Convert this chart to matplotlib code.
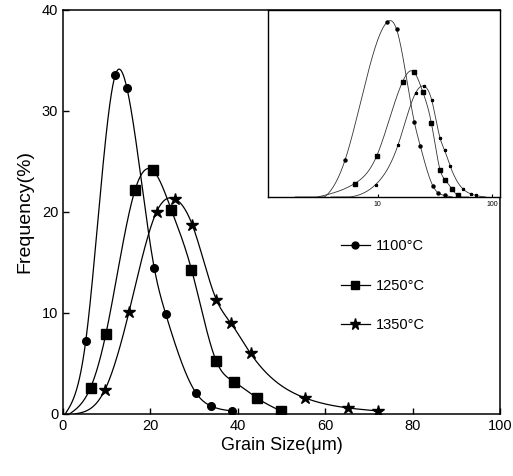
import numpy as np
import matplotlib
matplotlib.use("Agg")
import matplotlib.pyplot as plt

plt.rcParams['font.family'] = ['Liberation Sans', 'DejaVu Sans']

# ---- data ----
x_1100 = [5.2, 12.0, 14.6, 20.9, 23.5, 30.4, 33.8, 38.6]
y_1100 = [7.2, 33.6, 32.3, 14.4, 9.9, 2.1, 0.8, 0.3]
start_1100 = 0.5

x_1250 = [6.3, 9.8, 16.5, 20.6, 24.8, 29.4, 35.1, 39.1, 44.3, 49.8]
y_1250 = [2.6, 7.9, 22.2, 24.1, 20.2, 14.3, 5.2, 3.2, 1.6, 0.3]
start_1250 = 1.5

x_1350 = [9.6, 15.1, 21.4, 25.6, 29.6, 35.1, 38.4, 42.9, 55.3, 65.2, 72.1]
y_1350 = [2.4, 10.1, 20.0, 21.3, 18.7, 11.3, 9.0, 6.0, 1.6, 0.6, 0.3]
start_1350 = 2.7

# where the inset (log axis) curves leave / reach the baseline
inset_start = [1.9, 3.0, 3.9]
inset_end = [45.0, 62.0, 88.0]

labels = ['1100°C', '1250°C', '1350°C']
x_ticks = [0, 20, 40, 60, 80, 100]
y_ticks = [0, 10, 20, 30, 40]
inset_ticks = [10, 100]


def spline(x, y, xs):
    """natural cubic spline through (x, y)"""
    x = np.asarray(x, float); y = np.asarray(y, float)
    n = len(x); h = np.diff(x)
    A = np.zeros((n, n)); b = np.zeros(n)
    A[0, 0] = A[-1, -1] = 1
    for i in range(1, n - 1):
        A[i, i - 1] = h[i - 1]; A[i, i] = 2 * (h[i - 1] + h[i]); A[i, i + 1] = h[i]
        b[i] = 6 * ((y[i + 1] - y[i]) / h[i] - (y[i] - y[i - 1]) / h[i - 1])
    M = np.linalg.solve(A, b)
    idx = np.clip(np.searchsorted(x, xs) - 1, 0, n - 2)
    xi, xj, hi = x[idx], x[idx + 1], h[idx]
    return (M[idx] * (xj - xs)**3 / (6 * hi) + M[idx + 1] * (xs - xi)**3 / (6 * hi)
            + (y[idx] / hi - M[idx] * hi / 6) * (xj - xs)
            + (y[idx + 1] / hi - M[idx + 1] * hi / 6) * (xs - xi))


def curve(xd, yd, x0):
    xx = [x0] + list(xd)
    yy = [0.0] + list(yd)
    xs = np.linspace(xx[0], xx[-1], 800)
    return xs, np.clip(spline(xx, yy, xs), 0, None)


def log_curve(xd, yd, x0, x1):
    lx = np.log10([x0] + list(xd) + [x1])
    yy = [0.0] + list(yd) + [0.0]
    ls = np.linspace(lx[0], lx[-1], 800)
    return 10**ls, np.clip(spline(lx, yy, ls), 0, None)

series = [(x_1100, y_1100, start_1100, 'o', 5.5),
          (x_1250, y_1250, start_1250, 's', 6.5),
          (x_1350, y_1350, start_1350, '*', 9)]

fig = plt.figure(figsize=(5.13, 4.76), dpi=100)
ax = fig.add_axes([0.1228, 0.1303, 0.852, 0.849])

handles = []
for (xd, yd, x0, mk, ms), lab in zip(series, labels):
    xs, ys = curve(xd, yd, x0)
    ax.plot(xs, ys, color='black', lw=0.9)
    ax.plot(xd, yd, linestyle='none', marker=mk, ms=ms, color='black')
    h, = ax.plot([], [], color='black', lw=0.9, marker=mk, ms=ms * 0.9, label=lab)
    handles.append(h)

ax.set_xlim(0, 100)
ax.set_ylim(0, 40)
ax.set_xticks(x_ticks)
ax.set_yticks(y_ticks)
ax.tick_params(direction='in', length=4, labelsize=10.5, width=1)
for s in ax.spines.values():
    s.set_linewidth(1.1)
ax.set_xlabel('Grain Size(μm)', fontsize=13, labelpad=3)
ax.set_ylabel('Frequency(%)', fontsize=14, labelpad=6)

ax.legend(handles=handles, loc='upper left', bbox_to_anchor=(0.605, 0.465),
          frameon=False, fontsize=10.5, handlelength=2.0, labelspacing=1.75,
          handletextpad=0.45)

# ---- inset (log x) ----
ins = fig.add_axes([0.5224, 0.5861, 0.4522, 0.393])
for (xd, yd, x0, mk, ms), s0, s1 in zip(series, inset_start, inset_end):
    xs, ys = log_curve(xd, yd, s0, s1)
    ins.plot(xs, ys, color='#333333', lw=0.6)
    ins.plot(xd, yd, linestyle='none', marker=mk, ms=2.2, color='black')
ins.set_xscale('log')
ins.set_xlim(1.1, 117)
ins.set_ylim(0, 36)
ins.set_xticks(inset_ticks)
ins.set_xticklabels(['10', '100'])
ins.minorticks_off()
ins.set_yticks([])
ins.tick_params(direction='in', length=2, labelsize=5, pad=3)
for s in ins.spines.values():
    s.set_linewidth(1.0)

fig.savefig('out.png', dpi=100)
